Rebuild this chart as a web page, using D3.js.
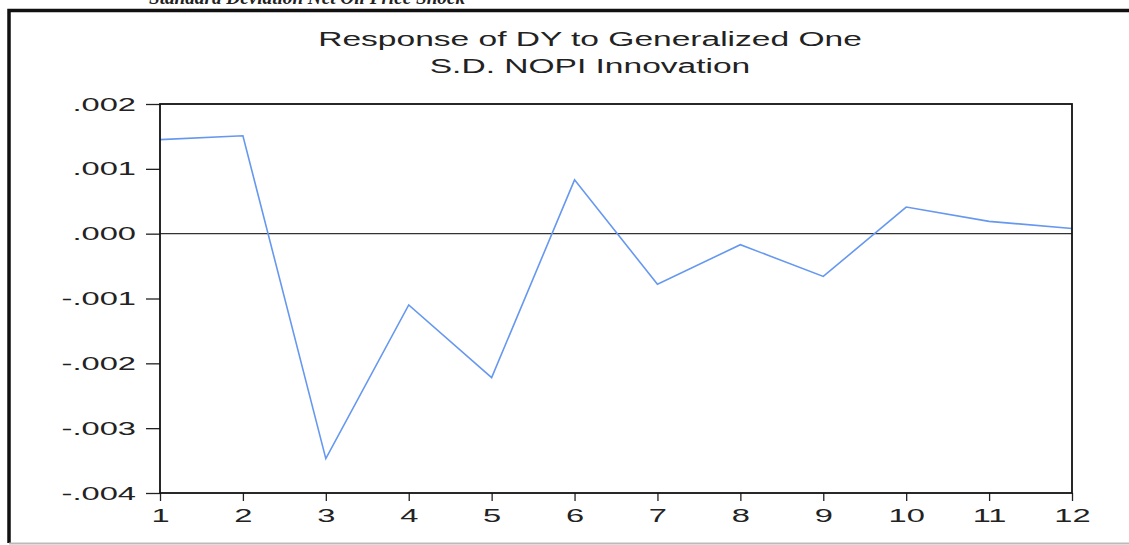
<!DOCTYPE html>
<html>
<head>
<meta charset="utf-8">
<script src="https://cdn.jsdelivr.net/npm/d3@7"></script>
<style>
  html, body { margin: 0; padding: 0; background: #fff; }
  svg { display: block; }
</style>
</head>
<body>
<svg id="chart" width="1129" height="545"></svg>
<script>
// Impulse response of DY to a one S.D. NOPI innovation, periods 1..12
const periods = [1, 2, 3, 4, 5, 6, 7, 8, 9, 10, 11, 12];
const response = [0.00145, 0.00151, -0.00347, -0.00110, -0.00222, 0.00083,
                  -0.00078, -0.00017, -0.00066, 0.00041, 0.00019, 0.00008];
const yTicks = [0.002, 0.001, 0.000, -0.001, -0.002, -0.003, -0.004];
const yTickLabels = [".002", ".001", ".000", "-.001", "-.002", "-.003", "-.004"];
const titleLines = ["Response of DY to Generalized One", "S.D. NOPI Innovation"];
const caption = "Standard Deviation Net Oil Price Shock";

// the sans-serif lettering is drawn wide
const stretch = 1.72;
const sansFont = "Liberation Sans, Arial, sans-serif";

const svg = d3.select("#chart");
const plot = { left: 160, right: 1072, top: 104, bottom: 493 };

const x = d3.scaleLinear().domain([1, 12]).range([plot.left, plot.right]);
const y = d3.scaleLinear().domain([-0.004, 0.002]).range([plot.bottom, plot.top]);

// caption above the figure box, cut by the page top
svg.append("text")
  .attr("x", 149).attr("y", 4)
  .attr("font-family", "Liberation Serif, serif")
  .attr("font-style", "italic").attr("font-weight", "bold")
  .attr("font-size", 19.2).attr("fill", "#222")
  .text(caption);

// outer figure box
svg.append("path")
  .attr("d", "M1135,10.5 H9 V543")
  .attr("fill", "none").attr("stroke", "#111").attr("stroke-width", 3.5);
svg.append("line")
  .attr("x1", 9).attr("x2", 1129).attr("y1", 543.5).attr("y2", 543.5)
  .attr("stroke", "#bbb").attr("stroke-width", 2);

// title
svg.append("g").selectAll("text").data(titleLines).join("text")
  .attr("transform", (d, i) => `translate(590,${46 + i * 27}) scale(${stretch},1)`)
  .attr("text-anchor", "middle")
  .attr("font-family", sansFont)
  .attr("font-size", 19.5).attr("fill", "#222")
  .text(d => d);

// zero line
svg.append("line")
  .attr("x1", plot.left).attr("x2", plot.right)
  .attr("y1", y(0)).attr("y2", y(0))
  .attr("stroke", "#333").attr("stroke-width", 1.2);

// response line
const line = d3.line().x((d, i) => x(periods[i])).y(d => y(d));
svg.append("path")
  .datum(response)
  .attr("d", line)
  .attr("fill", "none")
  .attr("stroke", "#6698f0")
  .attr("stroke-width", 1.6)
  .attr("stroke-linejoin", "miter");

// y axis
const yAxis = d3.axisLeft(y)
  .tickValues(yTicks)
  .tickSize(14)
  .tickPadding(10)
  .tickFormat((d, i) => yTickLabels[i]);
const gy = svg.append("g").attr("transform", `translate(${plot.left},0)`).call(yAxis);
gy.select(".domain").remove();
gy.selectAll(".tick line").attr("stroke", "#222").attr("stroke-width", 1.3);
gy.selectAll(".tick text")
  .attr("x", 0)
  .attr("transform", `translate(-24,0) scale(${stretch},1)`)
  .attr("font-family", sansFont)
  .attr("font-size", 19).attr("fill", "#222");

// x axis
const xAxis = d3.axisBottom(x)
  .tickValues(periods)
  .tickSize(8)
  .tickPadding(8)
  .tickFormat(d3.format("d"));
const gx = svg.append("g").attr("transform", `translate(0,${plot.bottom})`).call(xAxis);
gx.select(".domain").remove();
gx.selectAll(".tick line").attr("stroke", "#222").attr("stroke-width", 1.3);
gx.selectAll(".tick text")
  .attr("y", 0)
  .attr("transform", `translate(0,16) scale(${stretch},1)`)
  .attr("font-family", sansFont)
  .attr("font-size", 19).attr("fill", "#222");

// plot frame
svg.append("rect")
  .attr("x", plot.left).attr("y", plot.top)
  .attr("width", plot.right - plot.left).attr("height", plot.bottom - plot.top)
  .attr("fill", "none").attr("stroke", "#111").attr("stroke-width", 1.8);
</script>
</body>
</html>
